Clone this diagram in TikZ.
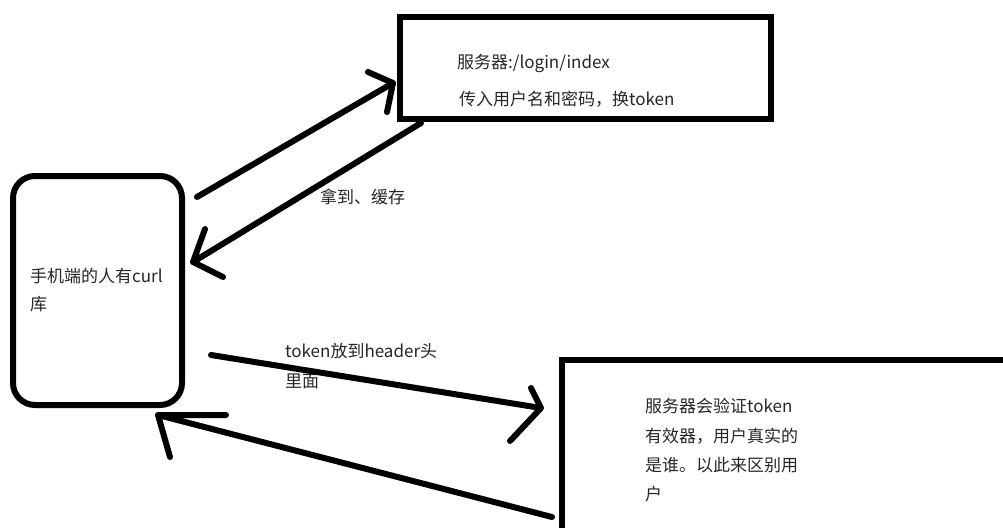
\documentclass[tikz,border=0pt]{standalone}
\usepackage{fontspec}
\newfontfamily\cjk{Noto Sans CJK SC}
\begin{document}
\begin{tikzpicture}[x=1pt,y=-1pt,
  thick line/.style={line width=6pt,line cap=round,line join=round},
  boxline/.style={draw,line width=6pt},
  lbl/.style={font=\cjk\fontsize{17}{19}\selectfont,text=black!85,anchor=base west,inner sep=0pt}]
\useasboundingbox (0,0) rectangle (1003,527);
% boxes
\node[boxline,rounded corners=22pt,minimum width=169pt,minimum height=229pt,inner sep=0pt] (phone) at (97.5,290.5) {};
\node[boxline,minimum width=371pt,minimum height=102pt,inner sep=0pt] (login) at (585,68) {};
\node[boxline,minimum width=460pt,minimum height=180pt,inner sep=0pt,anchor=north west] (verify) at (559,357) {};
% texts
\node[lbl] (t1) at (457,68) {服务器:/login/index};
\node[lbl] (t2) at (459,105) {传入用户名和密码，换token};
\node[lbl] (t3) at (320,203) {拿到、缓存};
\node[lbl] (t4) at (30,282) {手机端的人有curl};
\node[lbl] (t5) at (30,310) {库};
\node[lbl] (t6) at (285,357) {token放到header头};
\node[lbl] (t7) at (285,387) {里面};
\node[lbl] (t8) at (645,412) {服务器会验证token};
\node[lbl] (t9) at (645,442) {有效器，用户真实的};
\node[lbl] (t10) at (645,471) {是谁。以此来区别用};
\node[lbl] (t11) at (645,500) {户};
% connector end points
\coordinate (a1s) at (197,197);
\coordinate (a1t) at (393,83);
\coordinate (a2s) at (421,123);
\coordinate (a2t) at (193,262);
\coordinate (a3s) at (211,355);
\coordinate (a3t) at (541,408);
\coordinate (a4s) at (552,517);
\coordinate (a4t) at (158,415);
% connectors with hand-drawn open heads
\draw[thick line] (a1s) -- (a1t) -- (368,72) (a1t) -- (387,112);
\draw[thick line] (a2s) -- (a2t) -- (205,229) (a2t) -- (223,277);
\draw[thick line] (a3s) -- (a3t) -- (531,388) (a3t) -- (510,441);
\draw[thick line] (a4s) -- (a4t) -- (226,415) (a4t) -- (170,457);
\end{tikzpicture}
\end{document}
